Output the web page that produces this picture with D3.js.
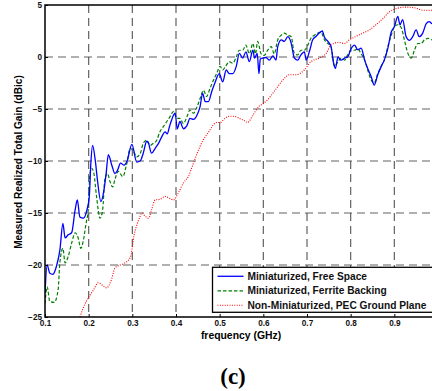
<!DOCTYPE html>
<html>
<head>
<meta charset="utf-8">
<script src="https://cdn.jsdelivr.net/npm/d3@7"></script>
<style>
  body { margin: 0; background: #fff; }
  svg { display: block; }
  text { font-family: Arial, "Liberation Sans", Helvetica, sans-serif; }
</style>
</head>
<body>
<div id="chart"></div>
<script>
// measured realized total gain (dBic) vs frequency (GHz)
const freeFreq = [0.100, 0.105, 0.111, 0.118, 0.127, 0.134, 0.141, 0.146, 0.153, 0.161, 0.169, 0.174, 0.180, 0.188, 0.196,
  0.2015, 0.205, 0.209, 0.215, 0.220, 0.228, 0.235, 0.240, 0.245, 0.253, 0.260, 0.266, 0.273, 0.281, 0.288, 0.299,
  0.310, 0.318, 0.325, 0.333, 0.337, 0.344, 0.352, 0.360, 0.367, 0.375, 0.380, 0.385, 0.390, 0.398,
  0.403, 0.409, 0.417, 0.425, 0.432, 0.440, 0.448, 0.455, 0.461, 0.467, 0.474, 0.482, 0.489, 0.499,
  0.507, 0.515, 0.522, 0.530, 0.538, 0.545, 0.553, 0.560, 0.568, 0.576, 0.580, 0.586, 0.590, 0.593, 0.599,
  0.606, 0.614, 0.622, 0.629, 0.633, 0.641, 0.648, 0.656, 0.664, 0.671, 0.679, 0.686, 0.694, 0.698,
  0.706, 0.713, 0.721, 0.728, 0.735, 0.740, 0.748, 0.755, 0.761, 0.765, 0.771, 0.778, 0.786, 0.793,
  0.801, 0.809, 0.816, 0.824, 0.832, 0.839, 0.847, 0.854, 0.862, 0.870, 0.877, 0.885, 0.893, 0.900,
  0.908, 0.913, 0.919, 0.927, 0.935, 0.942, 0.950, 0.957, 0.965, 0.973, 0.980, 0.987, 1.000];
const freeGain = [-22.7, -20.0, -20.8, -20.9, -20.0, -18.6, -16.0, -17.4, -17.1, -16.9, -14.7, -13.75, -15.4, -15.5, -14.7,
  -13.4, -10.2, -8.5, -9.9, -11.8, -13.9, -12.8, -11.2, -9.4, -10.4, -11.2, -10.9, -10.2, -10.4, -10.0, -8.4,
  -10.1, -10.0, -9.25, -8.1, -8.3, -9.25, -8.8, -8.3, -7.7, -7.2, -7.4, -6.7, -6.05, -5.4,
  -6.9, -6.2, -6.9, -6.6, -5.9, -6.0, -5.6, -4.8, -3.5, -4.3, -4.3, -3.3, -2.5, -1.6,
  -2.4, -1.25, -1.6, -1.6, -0.9, 0.35, -0.1, 0.5, -0.45, 0.65, -0.1, 0.35, -1.6, -0.2, -0.1,
  -0.05, -0.3, 0.1, -0.3, 1.0, 1.65, 1.5, 1.95, 1.3, -0.1, -0.3, 0.2, 0.5, -0.3,
  0.6, 1.65, 2.0, 2.3, 2.5, 1.9, 1.5, 1.0, -0.6, -1.1, 0.0, -0.3, -0.1, 0.0,
  0.8, 1.15, 0.7, 0.85, -0.3, -1.1, -1.9, -2.7, -1.7, -0.9, -0.3, 0.8, 2.4, 2.9,
  3.9, 3.1, 3.6, 1.95, 1.6, 1.95, 2.6, 1.95, 2.3, 3.2, 3.4, 3.2, 3.3];

const ferriteFreq = [0.100, 0.105, 0.111, 0.121, 0.130, 0.134, 0.141, 0.146, 0.153, 0.161, 0.169, 0.176, 0.182, 0.188, 0.194,
  0.199, 0.203, 0.207, 0.212, 0.218, 0.226, 0.232, 0.237, 0.243, 0.249, 0.255, 0.260, 0.268, 0.278, 0.287, 0.295,
  0.302, 0.310, 0.318, 0.325, 0.333, 0.341, 0.348, 0.356, 0.363, 0.371, 0.379, 0.386, 0.394,
  0.402, 0.409, 0.417, 0.425, 0.432, 0.440, 0.448, 0.455, 0.463, 0.470, 0.478, 0.486, 0.493, 0.501,
  0.507, 0.515, 0.522, 0.530, 0.538, 0.545, 0.553, 0.560, 0.568, 0.576, 0.582, 0.587, 0.595,
  0.602, 0.610, 0.618, 0.625, 0.633, 0.641, 0.648, 0.656, 0.664, 0.671, 0.679, 0.686, 0.694,
  0.702, 0.709, 0.717, 0.725, 0.732, 0.740, 0.748, 0.755, 0.763, 0.771, 0.778, 0.786, 0.793,
  0.801, 0.809, 0.816, 0.824, 0.832, 0.839, 0.847, 0.854, 0.862, 0.870, 0.877, 0.885, 0.893, 0.900,
  0.908, 0.916, 0.923, 0.931, 0.939, 0.946, 0.954, 0.961, 0.969, 0.977, 0.987, 1.000];
const ferriteGain = [-23.7, -22.1, -23.5, -23.6, -22.4, -19.8, -18.4, -19.8, -19.2, -17.9, -16.9, -17.4, -18.4, -17.6, -16.0,
  -14.7, -11.2, -10.7, -11.2, -13.4, -15.5, -14.7, -11.8, -11.2, -12.0, -12.5, -11.8, -11.0, -11.5, -10.3, -8.8,
  -9.0, -9.6, -9.3, -8.3, -8.0, -8.5, -8.3, -8.0, -7.2, -6.7, -6.2, -5.75, -5.25,
  -5.9, -5.9, -6.4, -5.75, -5.1, -5.4, -4.8, -4.0, -3.2, -3.8, -3.0, -2.2, -1.6, -0.9,
  -1.25, -0.8, -0.45, -0.6, 0.0, 0.65, 0.65, 1.15, 0.3, 1.3, 0.3, 1.5, 0.3,
  0.15, 0.65, 1.0, 0.3, 1.65, 2.1, 2.3, 2.1, 1.95, 0.35, 0.2, 0.65, 0.65,
  1.15, 1.8, 2.1, 2.3, 2.4, 1.65, 1.3, 1.0, -0.9, -0.45, -0.1, -0.3, 0.2,
  0.65, 0.65, 0.8, 0.3, -0.3, -1.25, -2.2, -2.5, -1.6, -0.9, -0.3, 1.0, 2.1, 2.9,
  3.1, 2.8, 1.65, 0.35, -0.1, 0.65, 1.3, 1.3, 1.65, 1.8, 1.65, 1.7];

const pecFreq = [0.180, 0.187, 0.196, 0.203, 0.211, 0.222, 0.233, 0.241, 0.253, 0.260, 0.272, 0.283, 0.295, 0.299, 0.302,
  0.310, 0.316, 0.322, 0.329, 0.337, 0.344, 0.352, 0.363, 0.375, 0.386, 0.394, 0.405, 0.417, 0.428, 0.440,
  0.448, 0.455, 0.462, 0.470, 0.478, 0.486, 0.493, 0.501, 0.512, 0.522, 0.533, 0.545, 0.556, 0.564,
  0.576, 0.591, 0.599, 0.610, 0.625, 0.645, 0.660, 0.675, 0.694, 0.709, 0.728, 0.744, 0.755, 0.771,
  0.786, 0.797, 0.813, 0.828, 0.843, 0.858, 0.874, 0.889, 0.908, 0.927, 0.950, 0.965, 0.987, 1.000];
const pecGain = [-25.0, -24.2, -23.4, -22.9, -22.4, -21.7, -22.0, -22.2, -21.3, -20.3, -20.0, -19.8, -19.3, -18.6, -17.6,
  -16.2, -15.5, -15.0, -15.3, -15.5, -14.7, -13.75, -13.7, -13.4, -13.6, -13.75, -13.1, -12.1, -11.5, -10.2,
  -9.3, -8.6, -8.0, -7.5, -7.0, -6.5, -6.3, -6.3, -5.9, -5.7, -5.7, -5.9, -6.1, -6.3,
  -5.6, -4.7, -4.5, -4.1, -3.3, -2.2, -1.7, -1.7, -1.25, -0.45, -0.1, 0.35, 1.15, 1.4,
  1.3, 1.65, 2.0, 2.3, 2.6, 3.1, 3.7, 4.35, 4.7, 4.8, 4.7, 4.5, 4.5, 4.5];

const seriesNames = ['Miniaturized, Free Space', 'Miniaturized, Ferrite Backing', 'Non-Miniaturized, PEC Ground Plane'];
const xTicks = [0.1, 0.2, 0.3, 0.4, 0.5, 0.6, 0.7, 0.8, 0.9, 1.0];
const yTicks = [-25, -20, -15, -10, -5, 0, 5];

const width = 432, height = 391;
const margin = { top: 5, right: -6, bottom: 74, left: 45 };
const innerW = width - margin.left - margin.right;
const innerH = height - margin.top - margin.bottom;
const fontSans = 'Arial, "Liberation Sans", Helvetica, sans-serif';

const svg = d3.select('#chart').append('svg')
  .attr('width', width)
  .attr('height', height);

const g = svg.append('g').attr('transform', `translate(${margin.left},${margin.top})`);

const x = d3.scaleLinear().domain([0.1, 1.0]).range([0, innerW]);
const y = d3.scaleLinear().domain([-25, 5]).range([innerH, 0]);

svg.append('defs').append('clipPath').attr('id', 'clip')
  .append('rect').attr('width', innerW).attr('height', innerH);

// grid
const grid = g.append('g').attr('stroke', '#3a3a3a').attr('stroke-opacity', 0.8)
  .attr('stroke-width', 1.2).attr('stroke-dasharray', '8,5');
grid.selectAll('.gx').data(xTicks.slice(1, -1)).join('line')
  .attr('x1', d => x(d)).attr('x2', d => x(d)).attr('y1', 0).attr('y2', innerH);
grid.selectAll('.gy').data(yTicks.slice(1, -1)).join('line')
  .attr('y1', d => y(d)).attr('y2', d => y(d)).attr('x1', 0).attr('x2', innerW);

// curves
const series = [
  { name: seriesNames[0], f: freeFreq, v: freeGain, color: '#0000ff', w: 1.3, dash: null },
  { name: seriesNames[1], f: ferriteFreq, v: ferriteGain, color: '#008000', w: 1.2, dash: '3.5,2' },
  { name: seriesNames[2], f: pecFreq, v: pecGain, color: '#ff0000', w: 1.1, dash: '1,1.4' }
];

const line = d3.line().x(d => x(d[0])).y(d => y(d[1])).curve(d3.curveMonotoneX);

const curves = g.append('g').attr('clip-path', 'url(#clip)');
series.slice().reverse().forEach(s => {
  curves.append('path')
    .datum(d3.zip(s.f, s.v))
    .attr('fill', 'none')
    .attr('stroke', s.color)
    .attr('stroke-width', s.w)
    .attr('stroke-dasharray', s.dash)
    .attr('d', line);
});

// axes (MATLAB style ticks inside)
const xAxis = g.append('g').attr('transform', `translate(0,${innerH})`)
  .call(d3.axisBottom(x).tickValues(xTicks.filter(d => d < 0.95)).tickSize(-3).tickPadding(3).tickFormat(d3.format('.1f')));
const yAxis = g.append('g')
  .call(d3.axisLeft(y).tickValues(yTicks).tickSize(-3).tickPadding(3));
[xAxis, yAxis].forEach(a => {
  a.select('.domain').remove();
  a.selectAll('line').attr('stroke', '#000');
  a.selectAll('text').attr('font-size', 8.2).attr('font-weight', 'bold')
    .attr('font-family', fontSans).attr('fill', '#111');
});

// box
g.append('rect').attr('width', innerW).attr('height', innerH)
  .attr('fill', 'none').attr('stroke', '#000').attr('stroke-width', 1.5);

// legend
const legend = g.append('g').attr('transform', `translate(${x(0.4836)},${y(-20.22)})`);
legend.append('rect').attr('width', 240).attr('height', 45)
  .attr('fill', '#fff').attr('stroke', '#000').attr('stroke-width', 1.3);
series.forEach((s, i) => {
  const row = legend.append('g').attr('transform', `translate(0,${9 + i * 14.5})`);
  row.append('line').attr('x1', 5).attr('x2', 31)
    .attr('stroke', s.color).attr('stroke-width', s.w)
    .attr('stroke-dasharray', s.dash);
  row.append('text').attr('x', 35).attr('dy', '0.35em')
    .attr('font-size', 10.2).attr('font-weight', 'bold').attr('fill', '#111')
    .text(s.name);
});

// labels
svg.append('text')
  .attr('x', 241).attr('y', 339)
  .attr('text-anchor', 'middle').attr('font-size', 10.4).attr('font-weight', 'bold')
  .text('frequency (GHz)');

svg.append('text')
  .attr('transform', `translate(22,162) rotate(-90)`)
  .attr('text-anchor', 'middle').attr('font-size', 10.1).attr('font-weight', 'bold')
  .text('Measured Realized Total Gain (dBic)');

svg.append('text')
  .attr('x', 233).attr('y', 384)
  .attr('text-anchor', 'middle').attr('font-size', 23).attr('font-weight', 'bold')
  .style('font-family', '"Times New Roman", "Liberation Serif", serif')
  .text('(c)');
</script>
</body>
</html>
